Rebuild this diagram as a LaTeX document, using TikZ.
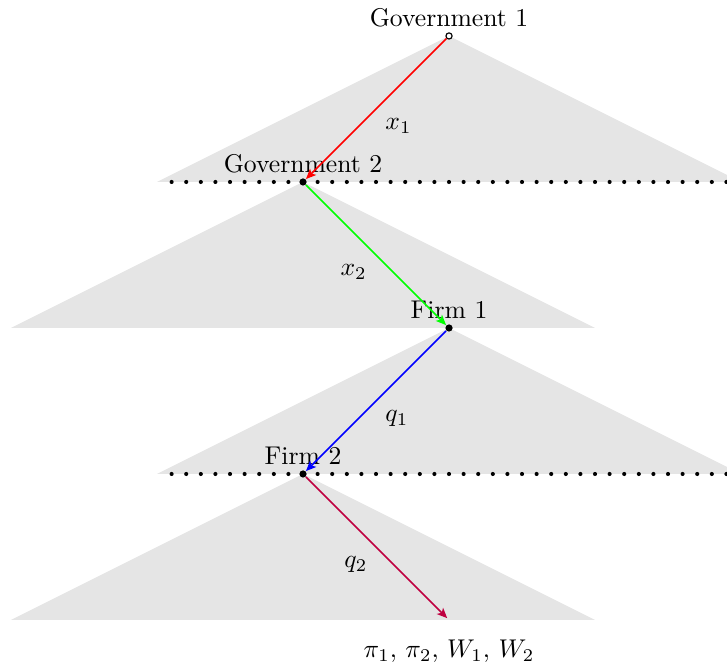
\documentclass[tikz,border=0pt]{standalone}
\usetikzlibrary{arrows.meta}
\begin{document}
\begin{tikzpicture}[
  decdot/.style={circle, fill=black, inner sep=0pt, minimum size=2.8pt},
  hollowdot/.style={circle, draw=black, fill=white, inner sep=0pt, minimum size=2.4pt, line width=0.45pt},
  toplabel/.style={yshift=-1.6pt},
  tri/.style={fill=black!10},
  infoset/.style={line width=1.6pt, line cap=round, dash pattern=on 0pt off 0.2cm},
  move/.style={-{Stealth[length=4pt, width=3.4pt, inset=1pt]}, line width=0.6pt},
  lab/.style={inner sep=3.33pt}
]
\clip (-6.151,0.493) rectangle (3.808,-8.630);
% game-tree triangles
\fill[tri] (0,0) -- (-4,-2) -- (4,-2) -- cycle;
\fill[tri] (-2,-2) -- (-6,-4) -- (2,-4) -- cycle;
\fill[tri] (0,-4) -- (-4,-6) -- (4,-6) -- cycle;
\fill[tri] (-2,-6) -- (-6,-8) -- (2,-8) -- cycle;
% information sets
\draw[infoset] (-2,-2) -- (-3.85,-2);
\draw[infoset] (-2,-2) -- (4.2,-2);
\draw[infoset] (-2,-6) -- (-3.85,-6);
\draw[infoset] (-2,-6) -- (4.2,-6);
% decision nodes
\node[hollowdot, label={[toplabel]above:Government 1}] (g1) at (0,0) {};
\node[decdot, label={[toplabel]above:Government 2}] (g2) at (-2,-2) {};
\node[decdot, label={[toplabel]above:Firm 1}] (f1) at (0,-4) {};
\node[decdot, label={[toplabel]above:Firm 2}] (f2) at (-2,-6) {};
\node[inner sep=0pt, label={[label distance=3.6pt]below:$\pi_1,\,\pi_2,\,W_1,\,W_2$}] (end) at (0,-8) {};
% moves
\draw[move, red] (g1) -- node[lab, midway, below right, text=black] {$x_1$} (g2);
\draw[move, green] (g2) -- node[lab, midway, below left, text=black] {$x_2$} (f1);
\draw[move, blue] (f1) -- node[lab, midway, below right, text=black] {$q_1$} (f2);
\draw[move, purple] (f2) -- node[lab, midway, below left, text=black] {$q_2$} (end);
\end{tikzpicture}
\end{document}
